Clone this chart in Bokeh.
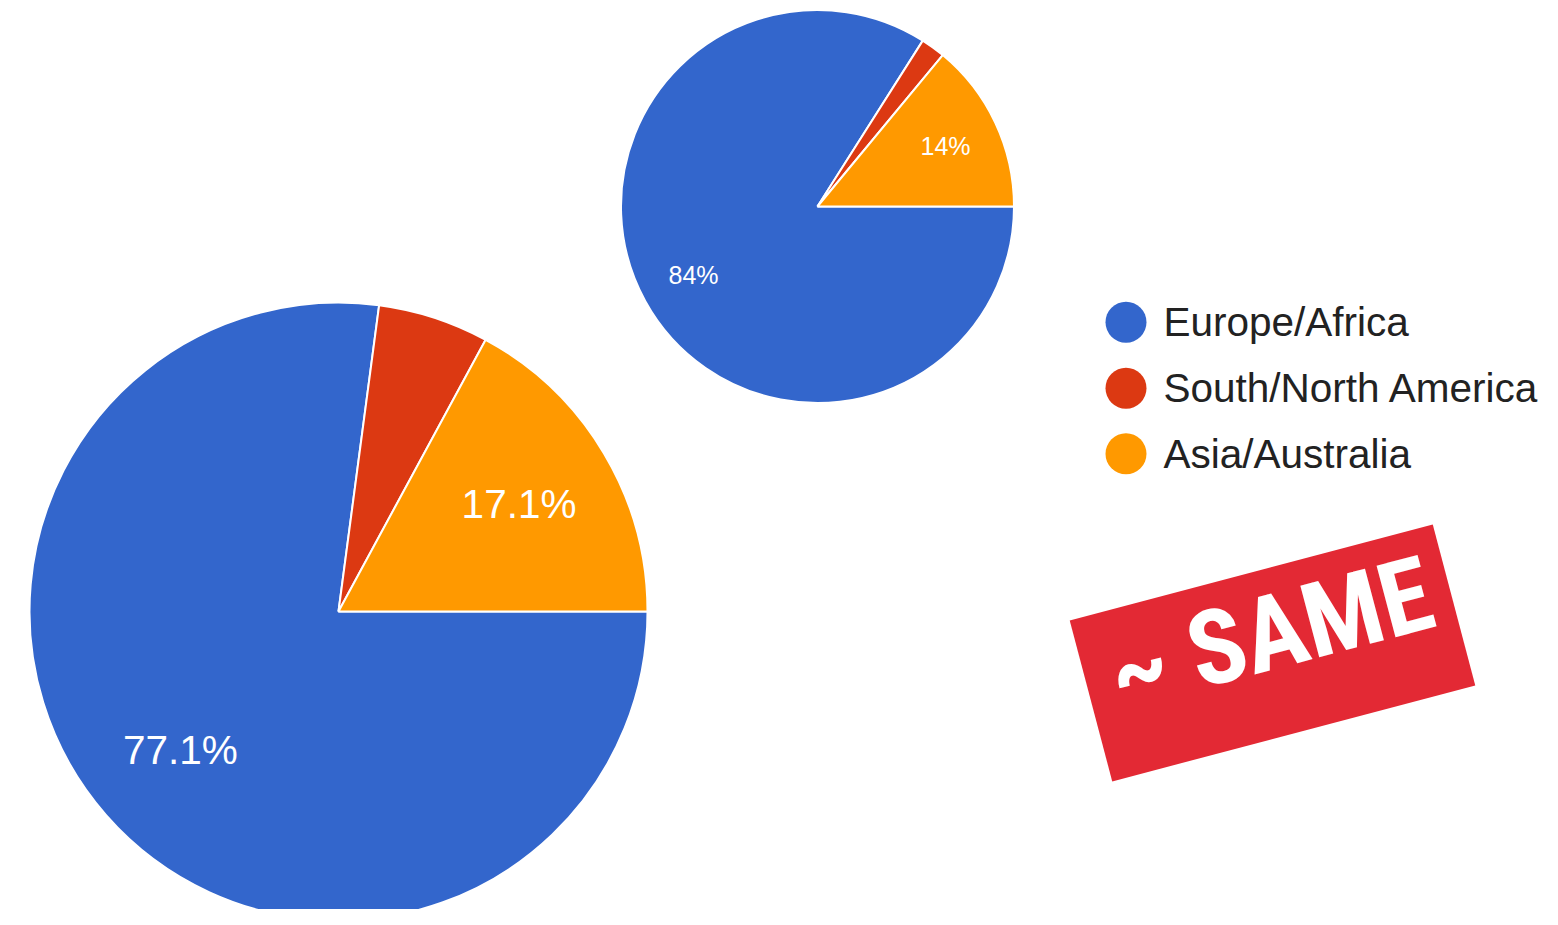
import numpy as np
from bokeh.plotting import figure
from bokeh.models import Range1d, ColumnDataSource
from bokeh.core.properties import value
from bokeh.embed import file_html
from bokeh.resources import INLINE

# ---- data ----
regions = ["Europe/Africa", "South/North America", "Asia/Australia"]
slice_colors = ["#3366cc", "#dc3912", "#ff9900"]
large_share = [77.1, 5.8, 17.1]
small_share = [84.0, 2.0, 14.0]
stamp_text = "~ SAME"

# ---- layout (screenshot pixels -> data units 1:1, y up) ----
W, H, PH = 1542, 909, 925


def py(y):
    return PH - y


p = figure(width=W, height=H, x_range=Range1d(0, W), y_range=Range1d(PH - H, PH),
           output_backend="svg", toolbar_location=None, min_border=0,
           x_axis_location=None, y_axis_location=None)
p.grid.visible = False
p.outline_line_color = None
p.background_fill_color = "white"
p.border_fill_color = "white"


def draw_pie(cx, cy, r, shares, label_px, label_frac):
    fr = np.array(shares, dtype=float) / sum(shares)
    cum = np.concatenate([[0.0], np.cumsum(fr)])
    start = -cum[1:] * 2 * np.pi
    end = -cum[:-1] * 2 * np.pi
    src = ColumnDataSource(dict(start=start, end=end, color=slice_colors))
    p.wedge(x=cx, y=cy, radius=r, start_angle="start", end_angle="end",
            fill_color="color", line_color="white", line_width=2, source=src)
    mid = (start + end) / 2
    keep = fr >= 0.1
    lx = cx + label_frac * r * np.cos(mid)
    ly = cy + label_frac * r * np.sin(mid)
    labels = [f"{s:g}%" for s in shares]
    p.text(x=list(lx[keep]), y=list(ly[keep]), text=[l for l, k in zip(labels, keep) if k],
           text_color="white", text_font=value("Liberation Sans"),
           text_font_size=f"{label_px}px", text_align="center", text_baseline="middle")


draw_pie(338, py(611), 309, large_share, 40.5, 0.68)
draw_pie(817, py(206), 196.5, small_share, 25, 0.72)

# ---- legend ----
leg_y = [py(321.7), py(387.7), py(453.3)]
p.scatter(x=[1125.5] * 3, y=leg_y, size=41, marker="circle", fill_color=slice_colors, line_color=None)
p.text(x=[1163] * 3, y=leg_y, text=regions, text_color="#222222", text_font=value("Liberation Sans"),
       text_font_size="40.5px", text_align="left", text_baseline="middle")

# ---- stamp ----
ang = np.deg2rad(14.8)
p.rect(x=[1272], y=[py(652.5)], width=[375.5], height=[166.4], angle=ang,
       fill_color="#e32934", line_color=None)
p.text(x=[1270], y=[py(633)], text=[stamp_text], angle=ang, text_color="white",
       text_font=value("Roboto Condensed, DejaVu Sans Condensed, Roboto"), text_font_style="bold",
       text_font_size="104px", text_align="center", text_baseline="middle")

open("out.html", "w").write(file_html(p, INLINE))
